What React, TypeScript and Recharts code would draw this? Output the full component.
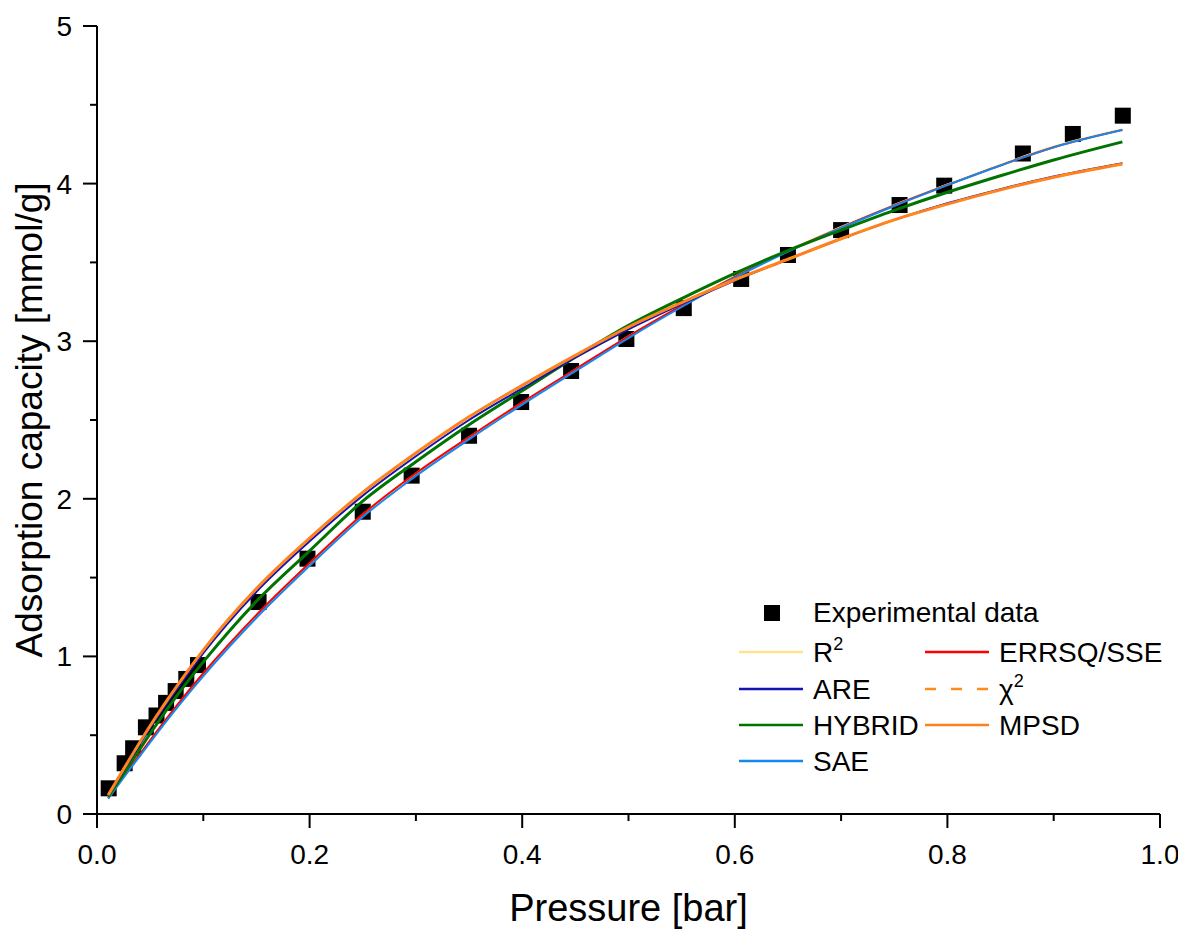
import React from 'react';
import { ComposedChart, Line, Scatter, XAxis, YAxis, Label } from 'recharts';

// Experimental data
const pressure = [0.011, 0.026, 0.034, 0.046, 0.056, 0.065, 0.074, 0.084, 0.095, 0.152, 0.198, 0.25, 0.296, 0.35, 0.399, 0.446, 0.498, 0.552, 0.606, 0.65, 0.7, 0.755, 0.797, 0.871, 0.918, 0.965];
const capacity = [0.163, 0.322, 0.417, 0.55, 0.625, 0.705, 0.78, 0.857, 0.945, 1.345, 1.62, 1.918, 2.147, 2.4, 2.614, 2.811, 3.014, 3.21, 3.395, 3.547, 3.705, 3.864, 3.987, 4.191, 4.315, 4.431];

// Fitted model curves
const fitPressure = [0.0105, 0.025, 0.05, 0.075, 0.1, 0.15, 0.2, 0.25, 0.3, 0.35, 0.4, 0.45, 0.5, 0.55, 0.6, 0.65, 0.7, 0.75, 0.8, 0.85, 0.9, 0.9646];
const fitR2 = [0.1, 0.235, 0.465, 0.685, 0.89, 1.26, 1.59, 1.9, 2.16, 2.39, 2.61, 2.82, 3.03, 3.225, 3.41, 3.575, 3.725, 3.865, 3.995, 4.12, 4.235, 4.345];
const fitERRSQ = [0.1, 0.237, 0.468, 0.688, 0.893, 1.263, 1.592, 1.902, 2.162, 2.392, 2.612, 2.822, 3.031, 3.225, 3.408, 3.572, 3.721, 3.861, 3.991, 4.116, 4.231, 4.341];
const fitARE = [0.115, 0.275, 0.545, 0.79, 1.02, 1.41, 1.73, 2.02, 2.27, 2.5, 2.7, 2.895, 3.075, 3.235, 3.385, 3.52, 3.65, 3.77, 3.875, 3.965, 4.045, 4.13];
const fitHYBRID = [0.11, 0.255, 0.51, 0.75, 0.965, 1.35, 1.67, 1.985, 2.235, 2.47, 2.685, 2.9, 3.1, 3.27, 3.43, 3.575, 3.705, 3.83, 3.945, 4.05, 4.15, 4.265];
const fitSAE = [0.098, 0.23, 0.455, 0.672, 0.875, 1.245, 1.575, 1.885, 2.145, 2.377, 2.598, 2.81, 3.02, 3.217, 3.403, 3.568, 3.718, 3.858, 3.99, 4.115, 4.23, 4.34];
const fitChi2 = [0.12, 0.285, 0.56, 0.81, 1.04, 1.43, 1.75, 2.04, 2.29, 2.52, 2.72, 2.91, 3.09, 3.245, 3.39, 3.52, 3.65, 3.77, 3.87, 3.96, 4.04, 4.124];
const fitMPSD = [0.12, 0.285, 0.56, 0.81, 1.04, 1.43, 1.75, 2.04, 2.29, 2.52, 2.72, 2.91, 3.09, 3.245, 3.39, 3.52, 3.65, 3.77, 3.87, 3.96, 4.04, 4.124];

const xTicks = [0, 0.1, 0.2, 0.3, 0.4, 0.5, 0.6, 0.7, 0.8, 0.9, 1.0];
const yTicks = [0, 0.5, 1, 1.5, 2, 2.5, 3, 3.5, 4, 4.5, 5];

const FONT = '"Liberation Sans", Arial, Helvetica, sans-serif';
const W = 1170;
const H = 922;

const expData = pressure.map((p, i) => ({ x: p, y: capacity[i] }));
const toData = (vals: number[]) => fitPressure.map((p, i) => ({ x: p, y: vals[i] }));

const series = [
  { name: 'R2', vals: fitR2, color: '#FFE38A', width: 2, dash: undefined as string | undefined },
  { name: 'ERRSQ', vals: fitERRSQ, color: '#FF0000', width: 2, dash: undefined },
  { name: 'SAE', vals: fitSAE, color: '#1488F0', width: 2, dash: undefined },
  { name: 'HYBRID', vals: fitHYBRID, color: '#007300', width: 3, dash: undefined },
  { name: 'ARE', vals: fitARE, color: '#1414B0', width: 2, dash: undefined },
  { name: 'MPSD', vals: fitMPSD, color: '#FF7F1E', width: 3, dash: undefined },
  { name: 'Chi2', vals: fitChi2, color: '#FF8C1A', width: 2, dash: '11 15' },
];

const isMajor = (v: number, step: number) => Math.abs(Math.round(v / step) * step - v) < 1e-6;

const XTick = (props: any) => {
  const { x, y, payload } = props;
  const v = payload.value as number;
  const major = isMajor(v, 0.2);
  return (
    <g>
      <line x1={x} y1={y} x2={x} y2={y + (major ? 14 : 7)} stroke="#000" strokeWidth={2} />
      {major && (
        <text x={x} y={y + 50} textAnchor="middle" fontSize={28} fontFamily={FONT} fill="#000">
          {v.toFixed(1)}
        </text>
      )}
    </g>
  );
};

const YTick = (props: any) => {
  const { x, y, payload } = props;
  const v = payload.value as number;
  const major = isMajor(v, 1);
  return (
    <g>
      <line x1={x} y1={y} x2={x - (major ? 14 : 7)} y2={y} stroke="#000" strokeWidth={2} />
      {major && (
        <text x={x - 25} y={y + 10} textAnchor="end" fontSize={28} fontFamily={FONT} fill="#000">
          {String(v)}
        </text>
      )}
    </g>
  );
};

const YTitle = (props: any) => {
  const vb = props.viewBox || {};
  const cx = vb.x + 5;
  const cy = vb.y + vb.height / 2;
  return (
    <text
      x={cx}
      y={cy}
      textAnchor="middle"
      fontSize={37}
      fontFamily={FONT}
      fill="#000"
      transform={`rotate(-90, ${cx}, ${cy})`}
    >
      Adsorption capacity [mmol/g]
    </text>
  );
};

const XTitle = (props: any) => {
  const vb = props.viewBox || {};
  const cx = vb.x + vb.width / 2;
  const cy = vb.y + 107;
  return (
    <text x={cx} y={cy} textAnchor="middle" fontSize={38} fontFamily={FONT} fill="#000">
      Pressure [bar]
    </text>
  );
};

const SquareShape = (props: any) => {
  const { cx, cy } = props;
  return <rect x={cx - 8} y={cy - 8} width={16} height={16} fill="#000" />;
};

const legendLeft = [
  { label: 'R', sup: '2', color: '#FFE38A', dash: undefined as string | undefined },
  { label: 'ARE', sup: '', color: '#1414B0', dash: undefined },
  { label: 'HYBRID', sup: '', color: '#007300', dash: undefined },
  { label: 'SAE', sup: '', color: '#1488F0', dash: undefined },
];
const legendRight = [
  { label: 'ERRSQ/SSE', sup: '', color: '#FF0000', dash: undefined as string | undefined },
  { label: 'χ', sup: '2', color: '#FF8C1A', dash: '11 15' },
  { label: 'MPSD', sup: '', color: '#FF7F1E', dash: undefined },
];
const rowY = [644, 681, 717, 753];

const LegendItem = ({ x, y, item }: any) => (
  <g>
    <line x1={x} y1={y} x2={x + 64} y2={y} stroke={item.color} strokeWidth={2.5} strokeDasharray={item.dash} />
    <text x={x + 74} y={y + 10} fontSize={28} fontFamily={FONT} fill="#000">
      {item.label}
      {item.sup && (
        <tspan fontSize={18} dy={-12}>
          {item.sup}
        </tspan>
      )}
    </text>
  </g>
);

const chartMargin = { top: 18, right: 18, left: 29, bottom: 0 };

export default function App() {
  return (
    <div style={{ position: 'relative', width: W, height: H, fontFamily: FONT }}>
      {/* Base layer: axes and experimental points */}
      <div style={{ position: 'absolute', left: 0, top: 0 }}>
        <ComposedChart width={W} height={H} margin={chartMargin}>
          <XAxis
            type="number"
            dataKey="x"
            domain={[0, 1]}
            ticks={xTicks}
            interval={0}
            tickSize={0}
            tickMargin={0}
            tickLine={false}
            tick={<XTick />}
            height={116}
            axisLine={{ stroke: '#000', strokeWidth: 2 }}
            allowDataOverflow
          >
            <Label content={<XTitle />} />
          </XAxis>
          <YAxis
            type="number"
            dataKey="y"
            domain={[0, 5]}
            ticks={yTicks}
            interval={0}
            tickSize={0}
            tickMargin={0}
            tickLine={false}
            tick={<YTick />}
            width={60}
            axisLine={{ stroke: '#000', strokeWidth: 2 }}
            allowDataOverflow
          >
            <Label content={<YTitle />} />
          </YAxis>
          <Scatter data={expData} dataKey="y" shape={<SquareShape />} isAnimationActive={false} />
        </ComposedChart>
      </div>
      {/* Top layer: fitted curves drawn over the points */}
      <div style={{ position: 'absolute', left: 0, top: 0, pointerEvents: 'none' }}>
        <ComposedChart width={W} height={H} margin={chartMargin}>
          <XAxis type="number" dataKey="x" domain={[0, 1]} ticks={xTicks} height={116} tick={false} tickLine={false} axisLine={false} allowDataOverflow />
          <YAxis type="number" dataKey="y" domain={[0, 5]} ticks={yTicks} width={60} tick={false} tickLine={false} axisLine={false} allowDataOverflow />
          {series.map((s) => (
            <Line
              key={s.name}
              data={toData(s.vals)}
              dataKey="y"
              type="monotone"
              stroke={s.color}
              strokeWidth={s.width}
              strokeDasharray={s.dash}
              dot={false}
              activeDot={false}
              isAnimationActive={false}
            />
          ))}
        </ComposedChart>
      </div>
      <svg
        width={W}
        height={H}
        style={{ position: 'absolute', left: 0, top: 0, pointerEvents: 'none' }}
      >
        <rect x={756} y={597} width={16} height={16} fill="#000" />
        <text x={805} y={614} fontSize={28} fontFamily={FONT} fill="#000">
          Experimental data
        </text>
        {legendLeft.map((it, i) => (
          <LegendItem key={it.label} x={731} y={rowY[i]} item={it} />
        ))}
        {legendRight.map((it, i) => (
          <LegendItem key={it.label} x={917} y={rowY[i]} item={it} />
        ))}
      </svg>
    </div>
  );
}
